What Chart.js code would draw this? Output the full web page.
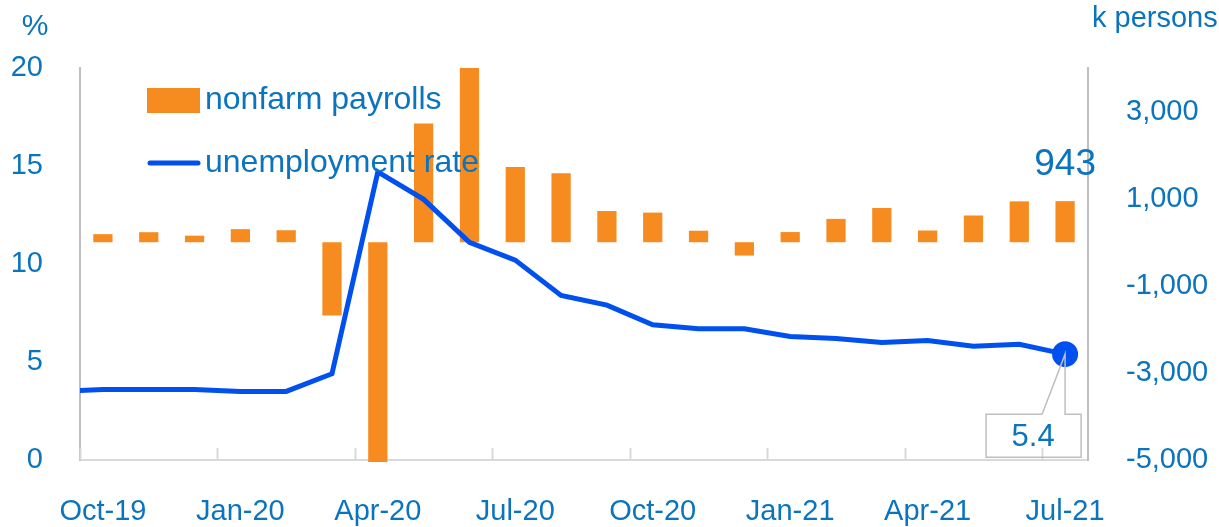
<!DOCTYPE html>
<html>
<head>
<meta charset="utf-8">
<script src="https://cdn.jsdelivr.net/npm/chart.js@4.4.1/dist/chart.umd.min.js"></script>
<style>
  html, body { margin: 0; padding: 0; background: #fff; }
  #wrap { width: 1219px; height: 527px; position: relative; }
</style>
</head>
<body>
<div id="wrap"><canvas id="chart" width="1219" height="527"></canvas></div>
<script>
// months shown on the axis
const months = ['Oct-19', 'Nov-19', 'Dec-19', 'Jan-20', 'Feb-20', 'Mar-20', 'Apr-20', 'May-20',
    'Jun-20', 'Jul-20', 'Aug-20', 'Sep-20', 'Oct-20', 'Nov-20', 'Dec-20', 'Jan-21', 'Feb-21',
    'Mar-21', 'Apr-21', 'May-21', 'Jun-21', 'Jul-21'];
// nonfarm payrolls, k persons (month-on-month change)
const payrolls = [185, 230, 150, 300, 275, -1683, -20787, 2725, 4781, 1726, 1583, 716,
    680, 264, -306, 233, 536, 785, 269, 614, 938, 943];
// unemployment rate, % (first value is Sep-19, just left of the axis)
const unempMonths = ['Sep-19'].concat(months);
const unempRate = [3.5, 3.6, 3.6, 3.6, 3.5, 3.5, 4.4, 14.7, 13.3, 11.1, 10.2, 8.4, 7.9,
    6.9, 6.7, 6.7, 6.3, 6.2, 6.0, 6.1, 5.8, 5.9, 5.4];
const rightTicks = [-5000, -3000, -1000, 1000, 3000];

const BLUE_TXT = '#0b74bf';
const ORANGE = '#f68b1f';
const LINE_BLUE = '#0050ef';
const FONT = "'Liberation Sans', Arial, sans-serif";

Chart.defaults.font.family = FONT;
Chart.defaults.font.size = 29;
Chart.defaults.color = BLUE_TXT;

const lastIdx = unempRate.length - 1;

const extras = {
    id: 'extras',
    afterDraw(chart) {
        const ctx = chart.ctx;
        const area = chart.chartArea;
        const xs = chart.scales.x;
        ctx.save();

        // inward tick marks every third month
        const half = (xs.getPixelForValue(1) - xs.getPixelForValue(0)) / 2;
        ctx.strokeStyle = '#d9d9d9';
        ctx.lineWidth = 2;
        for (let i = 0; i < months.length; i += 3) {
            const x = Math.round(xs.getPixelForValue(i) - half) + 0.5;
            ctx.beginPath();
            ctx.moveTo(x, area.bottom);
            ctx.lineTo(x, area.bottom - 12);
            ctx.stroke();
        }

        // unit labels
        ctx.fillStyle = BLUE_TXT;
        ctx.font = '30px ' + FONT;
        ctx.textBaseline = 'alphabetic';
        ctx.textAlign = 'center';
        ctx.fillText('%', 35, 35);
        ctx.font = '29px ' + FONT;
        ctx.textAlign = 'left';
        ctx.fillText('k persons', 1092, 27);

        // legend
        const bars = chart.data.datasets[0];
        const line = chart.data.datasets[1];
        const lx = area.left + 67;
        ctx.fillStyle = ORANGE;
        ctx.fillRect(lx, area.top + 20, 53, 25);
        ctx.strokeStyle = LINE_BLUE;
        ctx.lineWidth = 5;
        ctx.lineCap = 'round';
        ctx.beginPath();
        ctx.moveTo(lx + 3, area.top + 95);
        ctx.lineTo(lx + 51, area.top + 95);
        ctx.stroke();
        ctx.fillStyle = BLUE_TXT;
        ctx.font = '32px ' + FONT;
        ctx.textBaseline = 'middle';
        ctx.textAlign = 'left';
        ctx.fillText(bars.label, lx + 58, area.top + 32);
        ctx.fillText(line.label, lx + 58, area.top + 95);

        // last payroll value above its bar
        const barEl = chart.getDatasetMeta(0).data[payrolls.length - 1];
        ctx.font = '37px ' + FONT;
        ctx.textAlign = 'center';
        ctx.fillText(String(payrolls[payrolls.length - 1]), barEl.x, barEl.y - 36);

        // callout for last unemployment value
        const p = chart.getDatasetMeta(1).data[lastIdx];
        const top = p.y + 60, bot = p.y + 103, bl = p.x - 79, br = p.x + 16;
        ctx.strokeStyle = '#bfbfbf';
        ctx.lineWidth = 1.5;
        ctx.lineCap = 'butt';
        ctx.beginPath();
        ctx.moveTo(p.x - 23, top);
        ctx.lineTo(bl, top);
        ctx.lineTo(bl, bot);
        ctx.lineTo(br, bot);
        ctx.lineTo(br, top);
        ctx.lineTo(p.x, top);
        ctx.lineTo(p.x, p.y);
        ctx.lineTo(p.x - 23, top);
        ctx.stroke();
        ctx.fillStyle = BLUE_TXT;
        ctx.font = '31px ' + FONT;
        ctx.fillText(unempRate[lastIdx].toFixed(1), p.x - 32, p.y + 83);

        ctx.restore();
    }
};

new Chart(document.getElementById('chart'), {
    data: {
        labels: months,
        datasets: [
            {
                type: 'bar',
                label: 'nonfarm payrolls',
                data: payrolls,
                backgroundColor: ORANGE,
                barPercentage: 0.42,
                categoryPercentage: 1,
                grouped: false,
                yAxisID: 'yr',
                xAxisID: 'x',
                order: 2,
                clip: { left: 0, top: 0, right: 0, bottom: 2 }
            },
            {
                type: 'line',
                label: 'unemployment rate',
                data: unempRate.map((v, i) => ({ x: i - 0.5, y: v })),
                borderColor: LINE_BLUE,
                backgroundColor: LINE_BLUE,
                borderWidth: 5,
                tension: 0,
                pointRadius: (c) => c.dataIndex === lastIdx ? 13 : 0,
                pointHoverRadius: 0,
                pointBorderWidth: 0,
                yAxisID: 'y',
                xAxisID: 'xl',
                order: 1,
                clip: { left: 0, top: false, right: false, bottom: false }
            }
        ]
    },
    options: {
        responsive: false,
        animation: false,
        events: [],
        layout: { padding: { top: 68, left: 0, right: 0, bottom: 0 } },
        plugins: {
            legend: { display: false },
            tooltip: { enabled: false }
        },
        scales: {
            x: {
                type: 'category',
                offset: true,
                grid: { display: false },
                border: { display: true, color: '#d9d9d9', width: 2 },
                ticks: {
                    autoSkip: false,
                    maxRotation: 0,
                    padding: 27,
                    callback: (v, i) => i % 3 === 0 ? months[i] : ''
                },
                afterFit: (s) => { s.height = 67; }
            },
            xl: {
                type: 'linear',
                display: false,
                offset: false,
                min: 0,
                max: months.length
            },
            y: {
                position: 'left',
                min: 0,
                max: 20,
                grid: { display: false },
                border: { display: true, color: '#bfbfbf', width: 2 },
                ticks: { stepSize: 5, padding: 29 },
                afterFit: (s) => { s.width = 80; }
            },
            yr: {
                position: 'right',
                min: -5000,
                max: 4000,
                grid: { display: false },
                border: { display: true, color: '#bfbfbf', width: 2 },
                afterBuildTicks: (s) => { s.ticks = rightTicks.map(v => ({ value: v })); },
                ticks: {
                    padding: 30,
                    callback: (v) => Number(v).toLocaleString('en-US')
                },
                afterFit: (s) => { s.width = 131; }
            }
        }
    },
    plugins: [extras]
});
</script>
</body>
</html>
